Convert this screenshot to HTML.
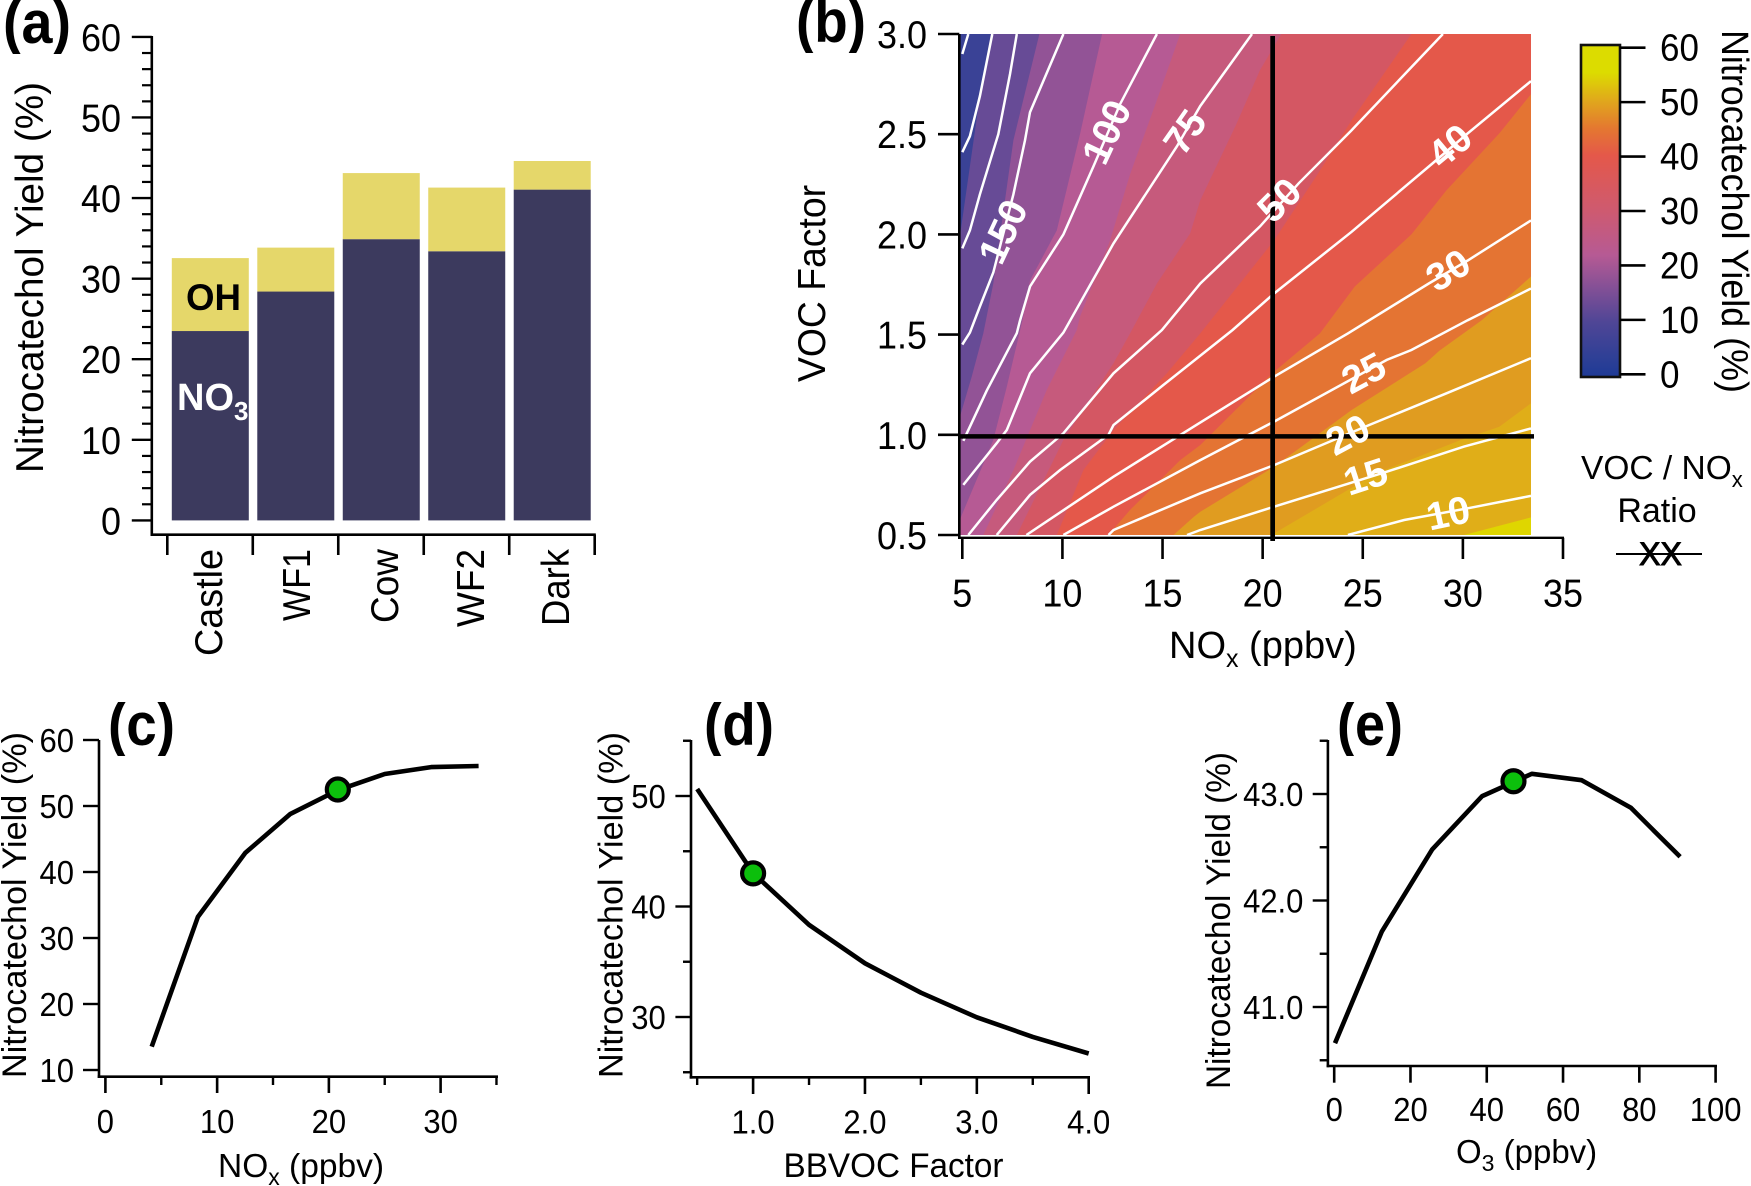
<!DOCTYPE html>
<html lang="en">
<head>
<meta charset="utf-8">
<title>Nitrocatechol Yield Figure</title>
<style>
html,body{margin:0;padding:0;background:#fff;}
svg{display:block;font-family:"Liberation Sans",Arial,sans-serif;}
</style>
</head>
<body>
<svg id="figure" xmlns="http://www.w3.org/2000/svg" width="1751" height="1186" viewBox="0 0 1751 1186">
<defs>
<clipPath id="clip-a"><rect x="0" y="0" width="80" height="54"/></clipPath>
<clipPath id="clip-b"><rect x="790" y="0" width="85" height="53"/></clipPath>
<clipPath id="clip-c"><rect x="100" y="702" width="85" height="54"/></clipPath>
<clipPath id="clip-d"><rect x="700" y="702" width="85" height="54"/></clipPath>
<clipPath id="clip-e"><rect x="1330" y="702" width="85" height="54"/></clipPath>
<clipPath id="clip-plot-b"><rect x="959.3" y="34" width="571.7" height="501"/></clipPath>
<linearGradient id="colorbar-gradient" x1="0" y1="1" x2="0" y2="0"></linearGradient>
</defs>
<rect width="1751" height="1186" fill="#fff"/>

<g id="panel-a"></g>
<g id="panel-b"></g>
<g id="colorbar"></g>
<g id="panel-c"></g>
<g id="panel-d"></g>
<g id="panel-e"></g>

<g clip-path="url(#clip-a)"><text x="3" y="43" font-size="60" font-weight="bold" textLength="68" lengthAdjust="spacingAndGlyphs">(a)</text></g>
<g clip-path="url(#clip-b)"><text x="796" y="42" font-size="60" font-weight="bold" textLength="70" lengthAdjust="spacingAndGlyphs">(b)</text></g>
<g clip-path="url(#clip-c)"><text x="108" y="745" font-size="60" font-weight="bold" textLength="67" lengthAdjust="spacingAndGlyphs">(c)</text></g>
<g clip-path="url(#clip-d)"><text x="704" y="745" font-size="60" font-weight="bold" textLength="70" lengthAdjust="spacingAndGlyphs">(d)</text></g>
<g clip-path="url(#clip-e)"><text x="1337" y="745" font-size="60" font-weight="bold" textLength="66" lengthAdjust="spacingAndGlyphs">(e)</text></g>

<text transform="translate(43,473) rotate(-90)" font-size="39" textLength="391" lengthAdjust="spacingAndGlyphs">Nitrocatechol Yield (%)</text>
<text x="186" y="310" font-size="37" font-weight="bold" fill="#000" textLength="55" lengthAdjust="spacingAndGlyphs">OH</text>
<text x="177" y="410" font-size="38" font-weight="bold" fill="#fff">NO<tspan font-size="26" dy="10">3</tspan></text>

<text transform="translate(825,382) rotate(-90)" font-size="39" textLength="197" lengthAdjust="spacingAndGlyphs">VOC Factor</text>
<text x="1169" y="658" font-size="38">NO<tspan font-size="25" dy="9">x</tspan><tspan dy="-9"> (ppbv)</tspan></text>
<text transform="translate(1722,30) rotate(90)" font-size="38" textLength="363" lengthAdjust="spacingAndGlyphs">Nitrocatechol Yield (%)</text>
<text x="1581" y="479" font-size="33.5">VOC / NO<tspan font-size="22" dy="8">x</tspan></text>
<text x="1657" y="522" font-size="34" text-anchor="middle">Ratio</text>
<text x="1660.5" y="565" font-size="32" text-anchor="middle" stroke="#000" stroke-width="1">XX</text>
<line x1="1616" y1="554" x2="1702" y2="554" stroke="#000" stroke-width="2"/>

<text transform="translate(26,1078) rotate(-90)" font-size="34" textLength="346" lengthAdjust="spacingAndGlyphs">Nitrocatechol Yield (%)</text>
<text x="218" y="1177" font-size="33.5">NO<tspan font-size="23" dy="8">x</tspan><tspan dy="-8"> (ppbv)</tspan></text>
<text transform="translate(622.5,1078) rotate(-90)" font-size="34" textLength="346" lengthAdjust="spacingAndGlyphs">Nitrocatechol Yield (%)</text>
<text x="783.5" y="1177" font-size="34" textLength="220" lengthAdjust="spacingAndGlyphs">BBVOC Factor</text>
<text transform="translate(1230,1089) rotate(-90)" font-size="34" textLength="337" lengthAdjust="spacingAndGlyphs">Nitrocatechol Yield (%)</text>
<text x="1456" y="1163" font-size="33">O<tspan font-size="23" dy="8">3</tspan><tspan dy="-8"> (ppbv)</tspan></text>

<script>
// ---------- Panel (a) data ----------
const barCategories = ['Castle', 'WF1', 'Cow', 'WF2', 'Dark'];
const no3Values = [23.5, 28.4, 34.9, 33.4, 41.05];
const ohValues = [9.05, 5.45, 8.2, 7.9, 3.55];
const aYTicks = [0, 10, 20, 30, 40, 50, 60];
const aYMinorTicks = [2,4,6,8,12,14,16,18,22,24,26,28,32,34,36,38,42,44,46,48,52,54,56,58];

// ---------- Panel (b) data ----------
const bXTicks = [5, 10, 15, 20, 25, 30, 35];
const bYTicks = ['0.5', '1.0', '1.5', '2.0', '2.5', '3.0'];
const crossNox = [20.5];
const crossVoc = [0.992];
const bandColors = ['#3A4296','#674B96','#925396','#B65A94','#C65A7C','#D45763','#E4584A','#E47433','#E09C20','#E0AE18','#DFD600'];
const bandEdgeNox = [
  [6.42,5.88,5.38,4.85],
  [8.85,7.55,6.55,6.05,5.47,4.85],
  [11.98,10.88,9.72,8.38,8.0,7.22,6.55,4.85],
  [15.88,14.72,13.38,12.38,10.88,10.72,9.22,7.55,6.05],
  [20.93,19.87,18.64,16.885,16.38,14.72,13.38,12.55,10.05,7.72],
  [27.43,24.44,22.68,20.57,16.885,15.22,12.55,11.05,9.72],
  [33.4,31.82,29.18,27.43,24.6,22.86,20.57,16.885,15.88,13.38,12.3],
  [33.4,30.94,28.83,28.13,24.44,20.57,16.885,16.55,15.55],
  [33.4,31.82,29.89,25.67,20.57,20.4],
  [33.4,30.06]
];
const bandEdgeVoc = [
  [3.0,2.69,2.34,1.97],
  [3.0,2.47,1.755,1.506,1.29,1.08],
  [3.0,2.5,2.02,1.77,1.57,1.24,0.974,0.57],
  [3.0,2.67,2.30,1.97,1.59,1.523,1.224,0.824,0.5],
  [3.0,2.82,2.54,2.17,2.005,1.755,1.506,1.357,0.974,0.5],
  [3.0,2.57,2.29,1.97,1.506,1.307,1.024,0.824,0.5],
  [2.70,2.504,2.22,2.0,1.74,1.506,1.315,0.949,0.874,0.625,0.5],
  [1.79,1.572,1.42,1.357,1.124,0.841,0.616,0.59,0.5],
  [1.157,1.04,0.974,0.808,0.508,0.5],
  [0.588,0.5]
];
const contourNox = [
  [5.3,5.0],
  [6.5,5.88,5.38,5.0],
  [7.72,7.38,6.8,5.88,5.38,5.0],
  [10.05,8.38,8.13,7.55,6.55,5.88,5.38,5.0],
  [14.72,12.88,11.55,10.05,8.38,7.88,7.72,6.22,5.47,5.05],
  [19.47,16.88,15.72,12.55,10.05,8.38,7.22,6.72,5.05],
  [29.0,24.44,21.8,19.87,16.885,14.97,12.55,10.05,8.38,6.72,5.3],
  [33.4,30.24,28.48,24.44,20.57,18.5,15.05,12.55,12.3,9.88,8.38,6.72],
  [33.4,30.24,28.3,24.26,20.57,16.7,12.55,8.2],
  [33.4,30.24,27.43,26.2,20.57,16.885,12.55,10.05],
  [33.4,29.18,25.32,20.57,16.885,12.55,12.3],
  [33.4,30.06,26.2,20.57,16.885,16.22],
  [33.4,30.24,27.07,24.26]
];
const contourVoc = [
  [3.0,2.9],
  [3.0,2.69,2.49,2.41],
  [3.0,2.80,2.50,2.2,2.02,1.93],
  [3.0,2.61,2.47,2.2,1.81,1.64,1.51,1.45],
  [3.0,2.65,2.34,2.0,1.74,1.57,1.507,1.22,1.06,0.97],
  [3.0,2.64,2.44,1.955,1.51,1.307,1.024,0.958,0.75],
  [3.0,2.52,2.255,2.04,1.755,1.523,1.307,1.0075,0.866,0.675,0.5],
  [2.765,2.504,2.354,2.013,1.705,1.523,1.249,1.049,1.0,0.824,0.7,0.5],
  [2.07,1.87,1.755,1.506,1.29,1.05,0.791,0.5],
  [1.73,1.572,1.423,1.374,1.066,0.874,0.641,0.5],
  [1.382,1.207,1.049,0.849,0.708,0.525,0.5],
  [1.032,0.941,0.816,0.641,0.525,0.5],
  [0.695,0.633,0.575,0.5]
];
const contourLabels = ['150','100','75','50','40','30','25','20','15','10'];
const contourLabelNox = [7.05,12.22,16.13,20.84,29.36,29.27,25.05,24.26,25.14,29.27];
const contourLabelVoc = [2.013,2.51,2.51,2.17,2.44,1.82,1.307,0.999,0.79,0.608];
const contourLabelAngles = [-65,-65,-55,-45,-40,-32,-28,-28,-18,-12];

// ---------- Colour bar data ----------
const colorbarTicks = [0, 10, 20, 30, 40, 50, 60];
const colorbarStopValues = [0, 3, 10, 15, 22, 30, 40, 45, 50, 55, 60];
const colorbarStopColors = ['#1E3A96','#2C3F96','#504696','#7A4E96','#B65A94','#CE5A70','#E4584A','#E47830','#E0A81C','#DCDC00','#DCDC00'];

// ---------- Panel (c) data ----------
const cNox = [4.14, 8.28, 12.52, 16.56, 20.8, 25.0, 29.15, 33.4];
const cYield = [13.54, 33.2, 42.9, 48.8, 52.4, 54.85, 55.9, 56.06];
const cMarkerX = [20.8];
const cMarkerY = [52.5];
const cXTicks = [0, 10, 20, 30];
const cXMinorTicks = [5, 15, 25, 35];
const cYTicks = [10, 20, 30, 40, 50, 60];

// ---------- Panel (d) data ----------
const dFactor = [0.5, 1.0, 1.5, 2.0, 2.5, 3.0, 3.5, 4.0];
const dYield = [50.63, 43.02, 38.34, 34.86, 32.2, 29.97, 28.2, 26.7];
const dMarkerX = [1.0];
const dMarkerY = [43.0];
const dXTicks = ['1.0', '2.0', '3.0', '4.0'];
const dXMinorTicks = [0.5, 1.5, 2.5, 3.5];
const dYTicks = [30, 40, 50];
const dYMinorTicks = [25, 35, 45, 55];

// ---------- Panel (e) data ----------
const eOzone = [0.2, 12.5, 25.7, 38.8, 51.8, 64.9, 77.8, 90.7];
const eYield = [40.66, 41.71, 42.48, 42.98, 43.19, 43.13, 42.87, 42.41];
const eMarkerX = [47];
const eMarkerY = [43.12];
const eXTicks = [0, 20, 40, 60, 80, 100];
const eYTicks = ['41.0', '42.0', '43.0'];
const eYMinorTicks = [40.5, 41.5, 42.5, 43.5];

// ---------- helpers ----------
const NS = 'http://www.w3.org/2000/svg';
function linear(d0, d1, r0, r1) { return function (v) { return r0 + (v - d0) * (r1 - r0) / (d1 - d0); }; }
function drawLine(parent, x1, y1, x2, y2, width, name) {
  const el = document.createElementNS(NS, 'line');
  el.setAttribute('x1', x1); el.setAttribute('y1', y1);
  el.setAttribute('x2', x2); el.setAttribute('y2', y2);
  el.setAttribute('stroke', '#000');
  el.setAttribute('stroke-width', width);
  
  
  parent.appendChild(el);
  return el;
}
function drawText(parent, str, x, y, size, anchor, name) {
  const el = document.createElementNS(NS, 'text');
  el.setAttribute('x', x); el.setAttribute('y', y);
  el.setAttribute('font-size', size);
  el.setAttribute('text-anchor', anchor);
  el.textContent = str;
  
  
  parent.appendChild(el);
  return el;
}
// Numeric tick label: drawn taller than its advance width, as in the reference typeface.
function drawTickText(parent, str, x, y, widthSize, anchor, name) {
  const el = drawText(parent, str, x, y, widthSize * 1.08, anchor, name);
  let em = 0;
  for (const ch of str) { em += (ch === '.') ? 0.278 : 0.556; }
  el.setAttribute('textLength', (em * widthSize).toFixed(1));
  el.setAttribute('lengthAdjust', 'spacingAndGlyphs');
  return el;
}
function polyPoints(xs, ys, sx, sy) {
  return xs.map(function (x, i) { return sx(x).toFixed(1) + ',' + sy(ys[i]).toFixed(1); }).join(' ');
}
function drawCurve(parent, xs, ys, sx, sy, name) {
  const el = document.createElementNS(NS, 'polyline');
  el.setAttribute('points', polyPoints(xs, ys, sx, sy));
  el.setAttribute('fill', 'none');
  el.setAttribute('stroke', '#000');
  el.setAttribute('stroke-width', '4.6');
  el.setAttribute('stroke-linejoin', 'round');
  
  
  parent.appendChild(el);
}
function drawMarker(parent, cx, cy, name) {
  const el = document.createElementNS(NS, 'circle');
  el.setAttribute('cx', cx); el.setAttribute('cy', cy);
  el.setAttribute('r', '11');
  el.setAttribute('fill', '#0CBF0C');
  el.setAttribute('stroke', '#000');
  el.setAttribute('stroke-width', '4.2');
  
  
  parent.appendChild(el);
}

// ---------- Panel (a) ----------
(function () {
  const g = document.getElementById('panel-a');
  const y = linear(0, 60, 520.4, 36.9);
  const slot = function (i) { return 167.3 + i * 85.48; };
  barCategories.forEach(function (name, i) {
    const bx = slot(i) + 4.5;
    const no3 = document.createElementNS(NS, 'rect');
    no3.setAttribute('x', bx); no3.setAttribute('width', 77);
    no3.setAttribute('y', y(no3Values[i]));
    no3.setAttribute('height', y(0) - y(no3Values[i]));
    no3.setAttribute('fill', '#3C3A5E');
    
    
    g.appendChild(no3);
    const oh = document.createElementNS(NS, 'rect');
    oh.setAttribute('x', bx); oh.setAttribute('width', 77);
    oh.setAttribute('y', y(no3Values[i] + ohValues[i]));
    oh.setAttribute('height', y(no3Values[i]) - y(no3Values[i] + ohValues[i]));
    oh.setAttribute('fill', '#E5D76A');
    
    
    g.appendChild(oh);
    const labelX = [222, 310, 398, 484, 569][i];
    const label = drawText(g, name, 0, 0, 39, 'end', 'x-tick-label-' + name.toLowerCase());
    label.setAttribute('textLength', [107, 72, 74, 78, 77][i]);
    label.setAttribute('lengthAdjust', 'spacingAndGlyphs');
    label.setAttribute('transform', 'translate(' + labelX + ',549) rotate(-90)');
  });
  drawLine(g, 151.8, 36, 151.8, 536, 2.6, 'y-axis-line');
  drawLine(g, 150.5, 534.7, 595.8, 534.7, 2.6, 'x-axis-line');
  for (let i = 0; i <= barCategories.length; i++) {
    drawLine(g, slot(i), 534.7, slot(i), 555, 2.6, 'x-tick');
  }
  aYTicks.forEach(function (v) {
    drawLine(g, 131.8, y(v), 151.8, y(v), 2.4, 'y-tick-major');
    drawTickText(g, String(v), 121, y(v) + 14, 36, 'end', 'y-tick-label');
  });
  aYMinorTicks.forEach(function (v) {
    drawLine(g, 142, y(v), 151.8, y(v), 2.2, 'y-tick-minor');
  });
})();

// ---------- Panel (b) ----------
(function () {
  const g = document.getElementById('panel-b');
  const xMin = 4.85, xMax = 33.4, yMin = 0.5, yMax = 3.0;
  const x = linear(5, 35, 962.3, 1563);
  const y = linear(0.5, 3.0, 535, 34);
  const plot = document.createElementNS(NS, 'g');
  plot.setAttribute('clip-path', 'url(#clip-plot-b)');
  
  
  g.appendChild(plot);
  const base = document.createElementNS(NS, 'rect');
  base.setAttribute('x', x(xMin)); base.setAttribute('y', y(yMax));
  base.setAttribute('width', x(xMax) - x(xMin));
  base.setAttribute('height', y(yMin) - y(yMax));
  base.setAttribute('fill', bandColors[0]);
  
  
  plot.appendChild(base);
  bandEdgeNox.forEach(function (xs, i) {
    const ys = bandEdgeVoc[i];
    const px = xs.slice(), py = ys.slice();
    if (px[px.length - 1] <= xMin) { px.push(xMin); py.push(yMin); }
    px.push(xMax); py.push(yMin);
    if (ys[0] >= yMax) { px.push(xMax); py.push(yMax); }
    const poly = document.createElementNS(NS, 'polygon');
    poly.setAttribute('points', polyPoints(px, py, x, y));
    poly.setAttribute('fill', bandColors[i + 1]);
    
    
    plot.appendChild(poly);
  });
  contourNox.forEach(function (xs, i) {
    const line = document.createElementNS(NS, 'polyline');
    line.setAttribute('points', polyPoints(xs, contourVoc[i], x, y));
    line.setAttribute('fill', 'none');
    line.setAttribute('stroke', '#fff');
    line.setAttribute('stroke-width', '2.5');
    
    
    plot.appendChild(line);
  });
  drawLine(g, 959.3, 34, 959.3, 539, 2.6, 'y-axis-line');
  drawLine(g, 958, 537.8, 1564, 537.8, 2.4, 'x-axis-line');
  bXTicks.forEach(function (v) {
    drawLine(g, x(v), 537.8, x(v), 559, 2.6, 'x-tick');
    drawTickText(g, String(v), x(v), 606.5, 36, 'middle', 'x-tick-label');
  });
  bYTicks.forEach(function (v) {
    drawLine(g, 938, y(parseFloat(v)), 959.3, y(parseFloat(v)), 2.6, 'y-tick');
    drawTickText(g, v, 927, y(parseFloat(v)) + 14, 36, 'end', 'y-tick-label');
  });
  drawLine(g, x(crossNox[0]), 36, x(crossNox[0]), 541, 4.7, 'nox-crosshair');
  drawLine(g, 959, y(crossVoc[0]), 1534, y(crossVoc[0]), 4.5, 'voc-crosshair');
  contourLabels.forEach(function (s, i) {
    const t = drawText(g, s, 0, 13, 39, 'middle', 'contour-label-' + s);
    t.setAttribute('font-weight', 'bold');
    t.setAttribute('fill', '#fff');
    t.setAttribute('transform', 'translate(' + x(contourLabelNox[i]).toFixed(1) + ',' + y(contourLabelVoc[i]).toFixed(1) + ') rotate(' + contourLabelAngles[i] + ')');
  });
})();

// ---------- Colour bar ----------
(function () {
  const g = document.getElementById('colorbar');
  const y = linear(0, 60, 374.3, 47.7);
  const grad = document.getElementById('colorbar-gradient');
  colorbarStopValues.forEach(function (v, i) {
    const stop = document.createElementNS(NS, 'stop');
    stop.setAttribute('offset', (v / 60).toFixed(3));
    stop.setAttribute('stop-color', colorbarStopColors[i]);
    grad.appendChild(stop);
  });
  const bar = document.createElementNS(NS, 'rect');
  bar.setAttribute('x', 1581); bar.setAttribute('y', 45);
  bar.setAttribute('width', 39); bar.setAttribute('height', 332);
  bar.setAttribute('fill', 'url(#colorbar-gradient)');
  bar.setAttribute('stroke', '#111');
  bar.setAttribute('stroke-width', '2.6');
  
  
  g.appendChild(bar);
  colorbarTicks.forEach(function (v) {
    drawLine(g, 1620, y(v), 1645.5, y(v), 2.6, 'colorbar-tick');
    drawTickText(g, String(v), 1660, y(v) + 13, 35, 'start', 'colorbar-tick-label');
  });
})();

// ---------- Panels (c), (d), (e) ----------
(function () {
  const g = document.getElementById('panel-c');
  const x = linear(0, 30, 105.4, 440.6);
  const y = linear(10, 60, 1070, 740);
  drawLine(g, 99, 740, 99, 1078, 2.6, 'y-axis-line');
  drawLine(g, 97.7, 1076.7, 498, 1076.7, 2.6, 'x-axis-line');
  cXTicks.forEach(function (v) {
    drawLine(g, x(v), 1076.7, x(v), 1093, 2.6, 'x-tick-major');
    drawTickText(g, String(v), x(v), 1133, 31, 'middle', 'x-tick-label');
  });
  cXMinorTicks.forEach(function (v) {
    drawLine(g, x(v), 1076.7, x(v), 1085, 2.4, 'x-tick-minor');
  });
  cYTicks.forEach(function (v) {
    drawLine(g, 83, y(v), 99, y(v), 2.4, 'y-tick-major');
    drawTickText(g, String(v), 74, y(v) + 12, 31, 'end', 'y-tick-label');
  });
  drawCurve(g, cNox, cYield, x, y, 'yield-vs-nox-line');
  drawMarker(g, x(cMarkerX[0]), y(cMarkerY[0]), 'base-case-marker');
})();
(function () {
  const g = document.getElementById('panel-d');
  const x = linear(1, 4, 753.1, 1088.7);
  const y = linear(30, 50, 1017, 796);
  drawLine(g, 691, 740, 691, 1078.6, 2.6, 'y-axis-line');
  drawLine(g, 689.7, 1077.3, 1090, 1077.3, 2.6, 'x-axis-line');
  dXTicks.forEach(function (v) {
    drawLine(g, x(parseFloat(v)), 1077.3, x(parseFloat(v)), 1094, 2.6, 'x-tick-major');
    drawTickText(g, v, x(parseFloat(v)), 1133.3, 31, 'middle', 'x-tick-label');
  });
  dXMinorTicks.forEach(function (v) {
    drawLine(g, x(v), 1077.3, x(v), 1085, 2.4, 'x-tick-minor');
  });
  dYTicks.forEach(function (v) {
    drawLine(g, 675.4, y(v), 691, y(v), 2.4, 'y-tick-major');
    drawTickText(g, String(v), 665.8, y(v) + 12, 31, 'end', 'y-tick-label');
  });
  dYMinorTicks.forEach(function (v) {
    drawLine(g, 683, y(v), 691, y(v), 2.4, 'y-tick-minor');
  });
  drawCurve(g, dFactor, dYield, x, y, 'yield-vs-bbvoc-line');
  drawMarker(g, x(dMarkerX[0]), y(dMarkerY[0]), 'base-case-marker');
})();
(function () {
  const g = document.getElementById('panel-e');
  const x = linear(0, 100, 1334.2, 1715.6);
  const y = linear(41, 43, 1007, 794);
  drawLine(g, 1327.9, 740, 1327.9, 1067.3, 2.6, 'y-axis-line');
  drawLine(g, 1326.6, 1066, 1717, 1066, 2.6, 'x-axis-line');
  eXTicks.forEach(function (v) {
    drawLine(g, x(v), 1066, x(v), 1082.7, 2.6, 'x-tick');
    drawTickText(g, String(v), x(v), 1121, 31, 'middle', 'x-tick-label');
  });
  eYTicks.forEach(function (v) {
    drawLine(g, 1312.7, y(parseFloat(v)), 1327.9, y(parseFloat(v)), 2.4, 'y-tick-major');
    drawTickText(g, v, 1303.4, y(parseFloat(v)) + 12, 31, 'end', 'y-tick-label');
  });
  eYMinorTicks.forEach(function (v) {
    drawLine(g, 1319.7, y(v), 1327.9, y(v), 2.4, 'y-tick-minor');
  });
  drawCurve(g, eOzone, eYield, x, y, 'yield-vs-ozone-line');
  drawMarker(g, x(eMarkerX[0]), y(eMarkerY[0]), 'base-case-marker');
})();
</script>
</svg>
</body>
</html>
